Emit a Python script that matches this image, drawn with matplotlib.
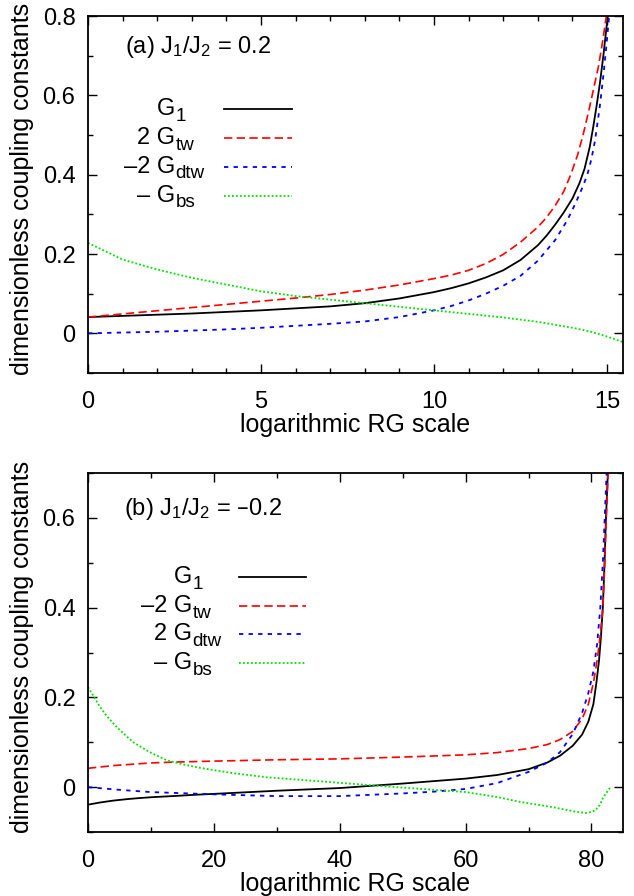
import matplotlib
matplotlib.use("Agg")
import matplotlib.pyplot as plt
from matplotlib.ticker import MultipleLocator
import matplotlib.transforms as mtransforms

plt.rcParams['font.family'] = ['Liberation Sans', 'DejaVu Sans']
plt.rcParams['mathtext.default'] = 'regular'

# ---------------- Panel (a): J1/J2 = 0.2 ----------------
a_g1_x = [0, 1, 2, 3, 4, 5, 6, 7, 8, 9, 10, 10.5, 11, 11.5, 12, 12.5, 13, 13.25, 13.5, 13.75, 14, 14.2,
          14.35, 14.5, 14.6, 14.7, 14.8, 14.9, 15.02]
a_g1_y = [0.041, 0.044, 0.047, 0.050, 0.054, 0.058, 0.063, 0.068, 0.076, 0.088, 0.104, 0.114, 0.126, 0.141,
          0.159, 0.185, 0.222, 0.246, 0.274, 0.305, 0.340, 0.378, 0.415, 0.470, 0.520, 0.575, 0.635, 0.705, 0.800]

a_tw_x = [0, 1, 2, 3, 4, 5, 6, 7, 8, 9, 10, 10.5, 11, 11.5, 12, 12.5, 13, 13.25, 13.5, 13.75, 13.95, 14.15,
          14.32, 14.5, 14.62, 14.75, 14.87, 14.98]
a_tw_y = [0.041, 0.049, 0.057, 0.065, 0.073, 0.081, 0.089, 0.098, 0.109, 0.122, 0.138, 0.147, 0.159, 0.176,
          0.199, 0.230, 0.268, 0.292, 0.322, 0.358, 0.400, 0.450, 0.505, 0.572, 0.620, 0.672, 0.735, 0.800]

a_dtw_x = [0, 1, 2, 3, 4, 5, 6, 7, 8, 9, 10, 10.5, 11, 11.5, 12, 12.5, 13, 13.5, 13.85, 14.1, 14.3, 14.43,
           14.55, 14.65, 14.78, 14.9, 14.98, 15.06]
a_dtw_y = [0.0, 0.002, 0.004, 0.007, 0.010, 0.014, 0.019, 0.024, 0.030, 0.041, 0.058, 0.069, 0.083, 0.100,
           0.120, 0.145, 0.183, 0.235, 0.285, 0.330, 0.370, 0.400, 0.440, 0.485, 0.565, 0.655, 0.725, 0.800]

a_bs_x = [0, 1, 2, 3, 4, 5, 6, 7, 8, 9, 10, 11, 12, 13, 14, 14.5, 15, 15.46]
a_bs_y = [0.228, 0.186, 0.161, 0.140, 0.123, 0.106, 0.094, 0.085, 0.076, 0.067, 0.058, 0.049, 0.040, 0.029,
          0.014, 0.005, -0.008, -0.022]

# ---------------- Panel (b): J1/J2 = -0.2 ----------------
b_g1_x = [0, 2, 4, 6, 8, 10, 12, 14, 17, 20, 30, 40, 50, 60, 65, 70, 73, 75, 77, 78.5, 79.5, 80.3, 80.8,
          81.2, 81.5, 81.8, 82.05, 82.3, 82.6]
b_g1_y = [-0.039, -0.034, -0.030, -0.027, -0.0245, -0.0225, -0.021, -0.0195, -0.017, -0.015, -0.008, -0.002,
          0.008, 0.019, 0.027, 0.040, 0.055, 0.070, 0.092, 0.117, 0.146, 0.185, 0.235, 0.283, 0.335, 0.400,
          0.490, 0.600, 0.700]

b_tw_x = [0, 2, 4, 6, 8, 10, 14, 20, 30, 40, 50, 60, 65, 70, 73, 75, 77, 78.5, 79.5, 80.3, 80.9, 81.4,
          81.8, 82.05, 82.35, 82.65]
b_tw_y = [0.042, 0.045, 0.048, 0.050, 0.052, 0.054, 0.056, 0.058, 0.061, 0.063, 0.067, 0.072, 0.077, 0.086,
          0.095, 0.106, 0.124, 0.152, 0.185, 0.232, 0.283, 0.340, 0.400, 0.480, 0.600, 0.700]

b_dtw_x = [0, 5, 10, 20, 30, 40, 50, 55, 60, 65, 70, 73, 75, 77, 78.5, 79.5, 80.3, 80.9, 81.4, 81.8, 82.1, 82.4]
b_dtw_y = [0.0, -0.006, -0.011, -0.016, -0.020, -0.020, -0.014, -0.010, -0.004, 0.009, 0.034, 0.055, 0.078,
           0.118, 0.165, 0.210, 0.258, 0.320, 0.400, 0.500, 0.600, 0.700]

b_bs_x = [0, 1, 1.9, 3, 4.56, 6, 7.2, 9.8, 12.5, 15, 17.8, 23.1, 28.4, 36.9, 47.5, 55, 60, 65, 68.7, 74, 77.2,
          79.3, 80.6, 81.3, 81.9, 82.5, 83]
b_bs_y = [0.223, 0.200, 0.179, 0.158, 0.134, 0.115, 0.100, 0.078, 0.060, 0.051, 0.043, 0.031, 0.022, 0.013,
          0.0015, -0.006, -0.011, -0.022, -0.033, -0.045, -0.054, -0.058, -0.052, -0.040, -0.022, -0.010, 0.0]

legend_a = [("G", "1"), ("2 G", "tw"), ("\u20132 G", "dtw"), ("\u2013 G", "bs")]
legend_b = [("G", "1"), ("\u20132 G", "tw"), ("2 G", "dtw"), ("\u2013 G", "bs")]

styles = [
    dict(color='black', lw=1.3, linestyle='-'),
    dict(color='#ff0000', lw=1.2, linestyle=(0, (5.0, 2.6))),
    dict(color='#0000ff', lw=1.3, linestyle=(0, (2.4, 2.9))),
    dict(color='#00e000', lw=1.3, linestyle=(0, (1.0, 1.2))),
]

FS_TICK = 17
FS_LAB = 18
FS_TXT = 17

fig = plt.figure(figsize=(6.34, 8.96), dpi=100)
ax1 = fig.add_axes([0.1388, 0.5837, 0.8438, 0.3984])
ax2 = fig.add_axes([0.1388, 0.0714, 0.8438, 0.4007])


def style_axes(ax, xmaj, xmin, ymaj, ymin):
    for s in ax.spines.values():
        s.set_linewidth(1.3)
    ax.xaxis.set_major_locator(MultipleLocator(xmaj))
    ax.xaxis.set_minor_locator(MultipleLocator(xmin))
    ax.yaxis.set_major_locator(MultipleLocator(ymaj))
    ax.yaxis.set_minor_locator(MultipleLocator(ymin))
    ax.tick_params(which='both', direction='in', top=True, right=True, width=1.0, labelsize=FS_TICK)
    ax.tick_params(which='major', length=6.5)
    ax.tick_params(which='minor', length=3.5)
    ax.tick_params(axis='x', which='major', pad=13)
    ax.tick_params(axis='y', which='major', pad=9)
    ax.set_xlabel('logarithmic RG scale', fontsize=FS_LAB, labelpad=0)
    ax.set_ylabel('dimensionless coupling constants', fontsize=FS_LAB)
    ax.yaxis.set_label_coords(-0.101, 0.515)


def draw_legend(ax, entries, xtext, xl0, xl1, ys):
    for (main, sub), st, y in zip(entries, styles, ys):
        ax.plot([xl0, xl1], [y, y], transform=ax.transAxes, clip_on=False, **st)
        tb = mtransforms.offset_copy(ax.transAxes, fig=fig, x=0, y=-4.5, units='points')
        ax.text(xtext, y, main, transform=tb, ha='right', va='baseline', fontsize=FS_TXT)
        ts = mtransforms.offset_copy(ax.transAxes, fig=fig, x=0.5, y=-8.5, units='points')
        ax.text(xtext, y, sub, transform=ts, ha='left', va='baseline', fontsize=FS_TXT * 0.8)


# Panel (a)
for (x, y), st in zip([(a_g1_x, a_g1_y), (a_tw_x, a_tw_y), (a_dtw_x, a_dtw_y), (a_bs_x, a_bs_y)], styles):
    ax1.plot(x, y, **st)
ax1.set_xlim(0, 15.46)
ax1.set_ylim(-0.1, 0.8)
style_axes(ax1, 5, 1, 0.2, 0.1)
ax1.set_yticks([0, 0.2, 0.4, 0.6, 0.8])
ax1.set_yticklabels(['0', '0.2', '0.4', '0.6', '0.8'])
ax1.text(0.069, 0.896, '(a) J$_1$/J$_2$ = 0.2', transform=ax1.transAxes, fontsize=FS_TXT, va='baseline')
draw_legend(ax1, legend_a, 0.1626, 0.254, 0.381, [0.7395, 0.659, 0.578, 0.497])

# Panel (b)
for (x, y), st in zip([(b_g1_x, b_g1_y), (b_tw_x, b_tw_y), (b_dtw_x, b_dtw_y), (b_bs_x, b_bs_y)], styles):
    ax2.plot(x, y, **st)
ax2.set_xlim(0, 85)
ax2.set_ylim(-0.1, 0.7)
style_axes(ax2, 20, 10, 0.2, 0.1)
ax2.set_yticks([0, 0.2, 0.4, 0.6])
ax2.set_yticklabels(['0', '0.2', '0.4', '0.6'])
ax2.text(0.067, 0.883, '(b) J$_1$/J$_2$ = \u20130.2', transform=ax2.transAxes, fontsize=FS_TXT, va='baseline')
draw_legend(ax2, legend_b, 0.194, 0.282, 0.4075, [0.711, 0.630, 0.551, 0.471])

fig.savefig('out.png', dpi=100)
